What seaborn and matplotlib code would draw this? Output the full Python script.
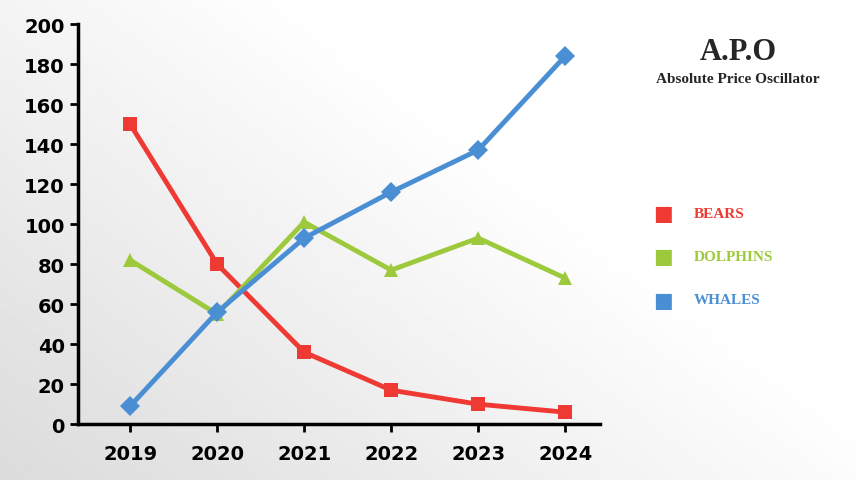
import numpy as np
import pandas as pd
import matplotlib
matplotlib.use("Agg")
import matplotlib.pyplot as plt
import seaborn as sns

years = ["2019", "2020", "2021", "2022", "2023", "2024"]
bears = [150, 80, 36, 17, 10, 6]
dolphins = [82, 55, 101, 77, 93, 73]
whales = [9, 56, 93, 116, 137, 184]
series_names = ["BEARS", "DOLPHINS", "WHALES"]
colors = ["#ee3a33", "#9dca3c", "#4a8ed4"]
markers = ["s", "^", "D"]

sns.set_style("white")
plt.rcParams['font.family'] = ['DejaVu Sans']

fig = plt.figure(figsize=(8.56, 4.81), dpi=100)
bg = fig.add_axes([0, 0, 1, 1])
xx, yy = np.meshgrid(np.linspace(0, 1, 300), np.linspace(0, 1, 200))
g = np.clip(0.86 + 0.16 * (0.8 * xx + 0.6 * (1 - yy)), 0, 1)
bg.imshow(g, cmap="gray", vmin=0, vmax=1, extent=[0, 1, 0, 1], aspect="auto")
bg.axis("off")

ax = fig.add_axes([0.091, 0.116, 0.61, 0.832])
ax.patch.set_alpha(0)
df = pd.DataFrame({"year": years * 3,
                   "value": bears + dolphins + whales,
                   "series": sum([[s] * len(years) for s in series_names], [])})
for name, c, m in zip(series_names, colors, markers):
    d = df[df.series == name]
    sns.lineplot(data=d, x="year", y="value", ax=ax, color=c, lw=3.5,
                 marker=m, markersize=10, markeredgewidth=0, legend=False)
ax.set_ylim(0, 200)
ax.set_xlim(-0.6, 5.4)
ax.set_yticks(range(0, 201, 20))
ax.set_xlabel(""); ax.set_ylabel("")
for s in ["top", "right"]:
    ax.spines[s].set_visible(False)
for s in ["left", "bottom"]:
    ax.spines[s].set_color("black"); ax.spines[s].set_linewidth(2.5)
ax.tick_params(axis="both", length=6, width=2, colors="black", direction="out", left=True, bottom=True)
for lab in ax.get_xticklabels() + ax.get_yticklabels():
    lab.set_fontweight("bold"); lab.set_fontsize(14)
ax.tick_params(axis="x", pad=8)

for i, (name, c) in enumerate(zip(series_names, colors)):
    y = 0.555 - i * 0.09
    fig.text(0.775, y, "\u25A0", color=c, fontsize=15, va="center", ha="center")
    fig.text(0.81, y, name, color=c, fontsize=11, va="center", family="Liberation Serif", fontweight="bold")

fig.text(0.862, 0.89, "A.P.O", fontsize=22, fontweight="bold", family="Liberation Serif", ha="center", va="center")
fig.text(0.862, 0.835, "Absolute Price Oscillator", fontsize=11, fontweight="bold", family="Liberation Serif", ha="center", va="center")

fig.savefig("out.png", dpi=100)
